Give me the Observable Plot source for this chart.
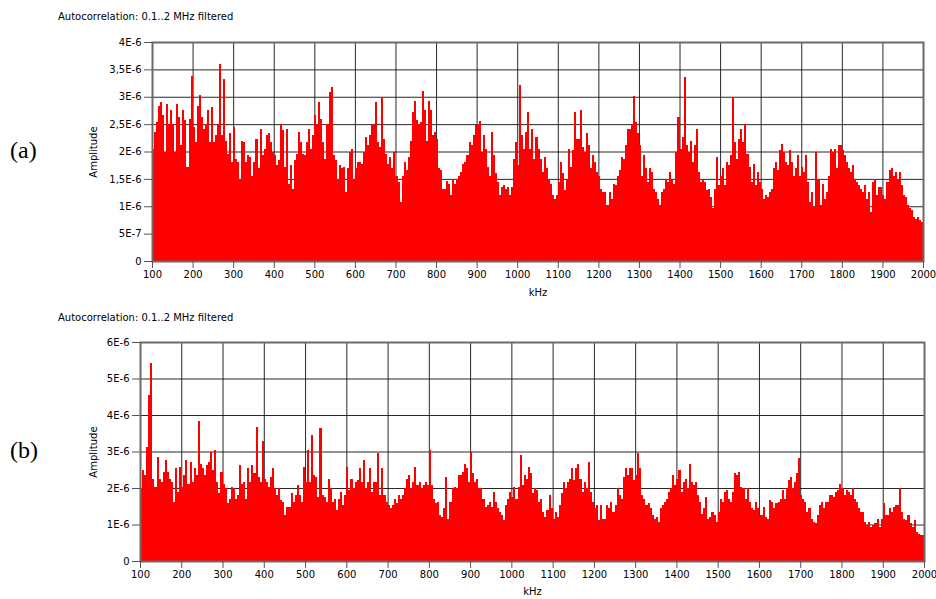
<!DOCTYPE html>
<html>
<head>
<meta charset="utf-8">
<script src="https://cdn.jsdelivr.net/npm/d3@7"></script>
<script src="https://cdn.jsdelivr.net/npm/@observablehq/plot@0.6"></script>
<style>
  body { margin: 0; background: #fff; }
  #wrap { position: relative; width: 936px; height: 599px; overflow: hidden; font-family: "DejaVu Sans", sans-serif; }
  .title { position: absolute; left: 58px; font-size: 10px; line-height: 12px; color: #000; white-space: nowrap; }
  .tag { position: absolute; left: 10px; font-family: "Liberation Serif", serif; font-size: 24px; line-height: 28px; color: #000; }
  .panel { position: absolute; left: 0; }
  .panel svg { display: block; }
</style>
</head>
<body>
<div id="wrap">
  <div class="title" id="titleA" style="top:11px"></div>
  <div class="tag" id="tagA" style="top:136px"></div>
  <div class="panel" id="panelA" style="top:0px"></div>
  <div class="title" id="titleB" style="top:312px"></div>
  <div class="tag" id="tagB" style="top:436px"></div>
  <div class="panel" id="panelB" style="top:300px"></div>
</div>
<script>
// ---- data (amplitudes in units of 1E-6, one value per 5 kHz bin starting at 100 kHz) ----
const titleText = "Autocorrelation: 0.1..2 MHz filtered";
const tagA = "(a)", tagB = "(b)";
const xLabel = "kHz", yLabel = "Amplitude";
const kHzStart = 100, kHzEnd = 2000, binKHz = 5;

const ampA = [
  2.05,2.36,2.53,2.83,2.90,2.66,1.99,2.87,2.51,2.75,2.51,1.99,2.87,2.63,2.11,2.75,2.57,1.72,2.60,3.38,
  2.45,2.17,2.84,3.03,2.63,2.42,2.51,2.75,2.17,2.81,2.17,2.30,2.51,3.59,2.30,3.33,2.20,1.96,2.33,1.81,
  2.45,1.87,1.81,1.50,2.20,2.17,1.81,1.93,1.90,1.56,1.81,2.23,1.69,2.42,1.93,2.05,2.30,2.33,2.17,1.99,
  1.93,1.75,1.84,2.51,2.39,1.72,2.42,1.41,1.75,1.32,1.84,1.96,2.36,2.17,1.96,1.93,2.17,2.42,2.05,2.30,
  2.66,2.48,2.90,2.60,2.17,1.87,2.51,3.09,3.18,1.93,1.84,1.50,1.75,1.69,1.72,1.26,1.69,1.99,2.05,1.50,
  1.69,1.81,1.81,1.78,1.99,2.26,2.11,2.30,2.51,2.48,2.90,2.17,2.08,3.00,2.23,1.96,1.78,1.90,1.69,1.99,
  1.56,1.44,1.08,1.56,1.81,1.66,1.90,2.20,2.72,2.93,2.57,2.51,2.54,3.10,2.75,2.20,2.93,2.75,2.30,2.36,
  2.23,1.69,1.66,1.32,1.32,1.47,1.41,1.20,1.50,1.41,1.50,1.56,1.63,1.78,1.81,1.93,2.17,2.11,2.30,2.48,
  2.51,2.55,1.99,2.30,2.05,1.72,1.56,2.36,1.93,1.60,1.44,1.20,1.35,1.38,1.32,1.35,1.20,1.35,1.87,2.17,
  1.75,3.21,2.30,2.05,2.36,2.72,2.05,2.42,1.87,2.26,2.05,1.87,1.63,1.90,1.69,1.50,1.41,1.20,1.14,1.20,
  1.44,1.81,1.60,1.29,1.50,2.05,1.72,2.02,2.72,2.23,2.23,2.75,2.08,1.99,2.33,2.11,1.69,1.93,1.81,1.63,
  1.56,1.32,1.26,1.26,1.02,1.26,1.14,1.41,1.38,1.56,1.66,1.90,1.87,2.11,2.42,2.42,2.51,3.01,2.54,2.33,
  2.11,1.56,1.93,1.69,1.44,1.69,1.63,1.32,1.26,1.14,1.02,1.26,1.32,1.50,1.44,1.63,1.50,1.41,1.99,2.63,
  2.05,2.26,3.36,2.11,1.99,2.20,1.81,2.11,2.42,1.63,1.44,1.50,1.44,1.29,1.32,1.17,0.96,1.32,1.90,1.38,
  1.56,1.69,1.38,1.81,1.75,1.93,3.00,2.17,1.87,2.23,2.42,2.17,2.51,1.96,1.72,1.44,1.78,1.38,1.63,1.44,
  1.32,1.14,1.20,1.17,1.26,1.32,1.69,1.81,1.66,2.02,2.14,1.99,1.81,1.75,2.02,1.81,1.56,1.69,1.93,1.56,
  1.72,1.63,1.93,1.44,1.08,1.26,0.99,1.99,1.50,1.02,1.41,1.14,1.26,1.56,2.05,1.99,2.05,1.69,2.11,2.11,
  2.02,1.93,1.81,1.69,1.63,1.75,1.50,1.44,1.38,1.32,1.26,1.38,1.14,1.26,0.90,1.44,1.50,1.20,1.35,1.35,
  1.20,1.14,1.44,1.66,1.69,1.56,1.63,1.50,1.63,1.38,1.20,1.17,1.02,0.96,0.93,0.80,0.77,0.80,0.74,0.71
];

const ampB = [
  1.99,2.49,2.35,3.13,4.55,5.42,2.26,2.03,2.86,2.26,2.17,2.45,2.77,2.45,2.26,2.17,1.62,2.54,1.90,2.58,
  2.03,2.35,2.77,2.12,2.72,2.17,2.54,2.35,3.84,2.67,2.54,2.35,2.63,2.72,3.00,2.49,3.04,2.17,1.85,2.45,
  2.12,1.99,1.58,1.71,2.03,1.99,1.71,1.80,2.63,2.12,2.17,1.71,2.54,2.17,2.63,2.40,3.68,2.31,2.17,3.29,
  2.26,2.17,2.03,2.31,2.54,1.99,1.80,1.99,1.67,1.62,1.25,1.48,1.48,1.85,1.62,1.80,2.08,1.80,1.62,2.58,
  2.17,3.04,2.17,3.45,2.35,2.31,1.76,3.64,1.80,1.76,1.62,2.26,1.99,1.62,1.71,1.39,1.71,1.90,1.53,1.80,
  2.58,1.94,2.26,1.99,2.17,2.22,2.54,2.17,2.77,1.99,2.17,2.54,1.90,2.17,2.17,2.95,1.80,2.54,1.80,1.62,
  1.53,1.44,1.53,1.71,1.58,1.80,1.71,1.80,1.99,2.26,2.35,1.99,2.17,2.58,2.08,2.17,1.99,2.08,2.17,2.08,
  3.04,2.08,1.71,1.58,1.62,1.25,1.21,1.44,2.31,1.16,1.62,1.99,2.03,1.99,2.35,2.35,2.45,2.67,2.54,2.17,
  3.00,2.40,2.17,2.26,1.99,1.99,1.71,1.48,1.53,1.62,1.48,1.90,1.62,1.44,1.35,1.25,1.12,1.53,1.71,1.90,
  1.76,2.03,1.71,2.03,2.90,2.08,2.35,2.26,2.58,2.40,1.85,1.99,1.94,1.62,1.71,1.35,1.21,1.39,1.80,1.44,
  1.16,1.35,1.21,1.53,1.85,2.17,1.99,2.17,2.26,2.54,2.22,2.54,2.67,2.26,1.90,2.17,1.99,2.72,1.90,1.62,
  1.44,1.53,1.12,1.53,1.16,1.16,1.53,1.44,1.62,1.35,1.53,1.99,1.80,1.71,2.31,2.54,2.35,2.54,2.54,2.22,
  2.35,2.95,2.54,1.80,1.71,1.53,1.58,1.44,1.25,1.16,1.21,1.07,1.44,1.53,1.62,1.71,1.90,1.99,2.35,2.08,
  2.26,2.49,1.90,2.17,2.26,1.99,2.67,2.17,2.08,2.17,1.80,1.62,1.30,1.44,1.76,1.16,1.21,1.35,1.25,1.07,
  1.35,1.71,1.62,1.90,1.94,1.71,1.62,1.90,2.40,2.35,2.45,2.03,1.99,1.71,1.99,1.62,1.44,1.39,1.62,1.44,
  1.25,1.25,1.48,1.21,1.16,1.67,1.62,1.44,1.58,1.62,1.71,1.94,1.71,1.99,2.22,2.31,1.99,2.17,2.40,2.81,
  1.80,1.71,1.62,1.35,1.44,1.16,1.07,1.03,1.25,1.53,1.62,1.44,1.62,1.62,1.80,1.80,1.76,1.90,1.94,2.12,
  1.99,1.80,1.94,1.90,1.80,1.99,1.71,1.62,1.44,1.35,1.35,1.07,0.98,1.07,0.93,0.98,1.03,1.16,0.93,1.16,
  1.58,1.25,1.25,1.44,1.35,1.48,1.53,1.53,1.99,1.35,1.16,1.12,1.25,1.03,0.93,1.12,0.80,0.75,0.71,0.71
];

const xTicks = [100,200,300,400,500,600,700,800,900,1000,1100,1200,1300,1400,1500,1600,1700,1800,1900,2000];
const yTicksA = [0,0.5,1,1.5,2,2.5,3,3.5,4];
const yLabelsA = ["0","5E-7","1E-6","1,5E-6","2E-6","2,5E-6","3E-6","3,5E-6","4E-6"];
const yTicksB = [0,1,2,3,4,5,6];
const yLabelsB = ["0","1E-6","2E-6","3E-6","4E-6","5E-6","6E-6"];

// ---- drawing ----
function panel(amp, yTicks, yLabels, o) {
  const data = amp.map((v, i) => ({f0: kHzStart + i * binKHz, f1: kHzStart + (i + 1) * binKHz, v}));
  return Plot.plot({
    width: 936, height: o.height,
    marginTop: o.mt, marginBottom: o.mb, marginLeft: o.ml, marginRight: o.mr,
    style: {fontFamily: "'DejaVu Sans', sans-serif", fontSize: "10px", color: "#000", background: "transparent", overflow: "visible"},
    x: {domain: [kHzStart, kHzEnd], label: null},
    y: {domain: [yTicks[0], yTicks[yTicks.length - 1]], label: null},
    marks: [
      Plot.gridX(xTicks, {stroke: "#111", strokeOpacity: 0.9, strokeWidth: 1}),
      Plot.gridY(yTicks, {stroke: "#111", strokeOpacity: 0.9, strokeWidth: 1}),
      Plot.rect(data, {x1: "f0", x2: "f1", y1: 0, y2: "v", fill: "#ff0000", shapeRendering: "crispEdges"}),
      Plot.frame({stroke: "#6a6a6a", strokeWidth: 2}),
      Plot.axisX(xTicks, {tickSize: 7, tickPadding: 2, stroke: "#555", label: null, tickFormat: d => String(d)}),
      Plot.axisY(yTicks, {tickSize: 8, tickPadding: 3, stroke: "#555", label: null, tickFormat: d => yLabels[yTicks.indexOf(d)]}),
      Plot.text([xLabel], {frameAnchor: "bottom", dy: o.kdy, fill: "#000"}),
      Plot.text([yLabel], {frameAnchor: "left", textAnchor: "middle", rotate: -90, dx: o.adx, fill: "#000"})
    ]
  });
}

document.getElementById("titleA").textContent = titleText;
document.getElementById("titleB").textContent = titleText;
document.getElementById("tagA").textContent = tagA;
document.getElementById("tagB").textContent = tagB;

document.getElementById("panelA").append(
  panel(ampA, yTicksA, yLabelsA, {height: 300, mt: 42, mb: 39, ml: 152, mr: 13, kdy: 34, adx: -59})
);
document.getElementById("panelB").append(
  panel(ampB, yTicksB, yLabelsB, {height: 299, mt: 42, mb: 38, ml: 140, mr: 12, kdy: 33, adx: -47})
);
</script>
</body>
</html>
